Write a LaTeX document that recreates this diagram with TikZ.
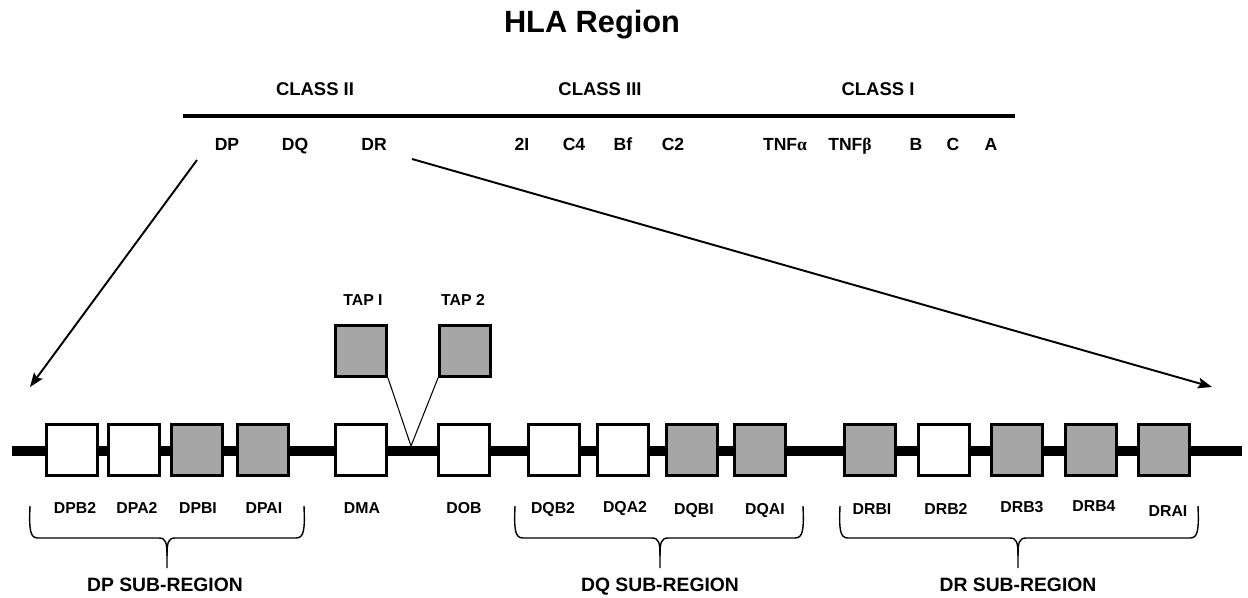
\documentclass[tikz,border=0pt]{standalone}
\usepackage{fontspec}
\setmainfont{Liberation Sans}
\newfontfamily\greekfont{Liberation Serif}
\usetikzlibrary{arrows.meta}

\definecolor{genegrey}{HTML}{A6A6A6}

\tikzset{
    genebox/.style={draw, line width=1.7pt, minimum size=1.02cm, inner sep=0pt, fill=#1},
    genebox/.default=white,
    toplabel/.style={anchor=base, font=\bfseries\fontsize{10}{12}\selectfont},
    genelabel/.style={anchor=base, font=\bfseries\fontsize{9}{11}\selectfont},
    subregion/.style={anchor=base, font=\bfseries\fontsize{11}{13}\selectfont},
    zoomarrow/.style={line width=1.1pt, -{Stealth[length=8pt, width=6pt, inset=1.5pt]}},
}

% brace under a sub-region: left end, middle, right end
\newcommand{\subbrace}[3]{%
    \draw[line width=0.8pt] (#1, 506) .. controls (#1-1, 530) and (#1, 538) .. (#1+8, 538)
        -- (#2-8, 538) .. controls (#2-1, 538) and (#2, 543) .. (#2, 556) -- (#2, 568);
    \draw[line width=0.8pt] (#3, 506) .. controls (#3+1, 530) and (#3, 538) .. (#3-8, 538)
        -- (#2+8, 538) .. controls (#2+1, 538) and (#2, 543) .. (#2, 556);
}

\begin{document}
\begin{tikzpicture}[x=0.02cm, y=-0.02cm]
            \useasboundingbox (0, 0) rectangle (1248, 598);

            \node[anchor=base, font=\bfseries\fontsize{17.5}{20}\selectfont] (title) at (592, 33) {HLA Region};

            % the whole region
            \draw[line width=2.8pt] (183, 116) -- (1015, 116);
            \node[toplabel, font=\bfseries\fontsize{10.5}{12}\selectfont] (class2) at (315, 96) {CLASS II};
            \node[toplabel, font=\bfseries\fontsize{10.5}{12}\selectfont] (class3) at (600, 96) {CLASS III};
            \node[toplabel, font=\bfseries\fontsize{10.5}{12}\selectfont] (class1) at (878, 96) {CLASS I};

            \foreach \name/\x/\txt in {DP/227/DP, DQ/295/DQ, DR/374/DR, 2I/522/2I, C4/574/C4,
                    Bf/623/Bf, C2/673/C2, B/916/B, C/953/C, A/991/A}
                \node[toplabel] (\name) at (\x, 151) {\txt};
            \node[toplabel] (TNFa) at (785, 151) {TNF{\greekfont α}};
            \node[toplabel] (TNFb) at (850, 151) {TNF{\greekfont β}};

            % zoom into the DP ... DR stretch
            \coordinate (dpfoot) at (197, 160);
            \coordinate (drfoot) at (412, 159);
            \coordinate (leftend) at (30, 387);
            \coordinate (rightend) at (1212, 387);
            \draw[zoomarrow] (dpfoot) -- (leftend);
            \draw[zoomarrow] (drfoot) -- (rightend);

            % chromosome
            \draw[line width=6.2pt] (12, 451) -- (1242, 451);

            \foreach \name/\x/\col in {DPB2/72/white, DPA2/134/white, DPBI/197/genegrey, DPAI/263/genegrey,
                    DMA/361/white, DOB/464/white,
                    DQB2/554/white, DQA2/623/white, DQBI/692/genegrey, DQAI/760/genegrey,
                    DRBI/870/genegrey, DRB2/944/white, DRB3/1017/genegrey, DRB4/1091/genegrey, DRAI/1164/genegrey}
                \node[genebox=\col] (\name) at (\x, 450) {};

            \foreach \name/\x/\y in {DPB2/75/513, DPA2/137/513, DPBI/198/513, DPAI/264/513,
                    DMA/362/513, DOB/464/513,
                    DQB2/553/513, DQA2/625/512, DQBI/694/514, DQAI/765/514,
                    DRBI/872/514, DRB2/946/514, DRB3/1022/512, DRB4/1094/511, DRAI/1168/516}
                \node[genelabel] (\name-lab) at (\x, \y) {\name};

            % TAP genes
            \node[genebox=genegrey] (TAP1) at (361, 351) {};
            \node[genebox=genegrey] (TAP2) at (465, 351) {};
            \node[genelabel] (TAP1-lab) at (363, 305) {TAP I};
            \node[genelabel] (TAP2-lab) at (463, 305) {TAP 2};
            \coordinate (tapsite) at (411, 446);
            \draw[line width=0.6pt] (TAP1.south east) -- (tapsite) -- (TAP2.south west);

            % sub-regions
            \subbrace{30}{167}{304}
            \subbrace{515}{660}{803}
            \subbrace{840}{1018}{1198}
            \node[subregion] (DPsub) at (165, 591) {DP SUB-REGION};
            \node[subregion] (DQsub) at (660, 591) {DQ SUB-REGION};
            \node[subregion] (DRsub) at (1018, 591) {DR SUB-REGION};
\end{tikzpicture}
\end{document}
